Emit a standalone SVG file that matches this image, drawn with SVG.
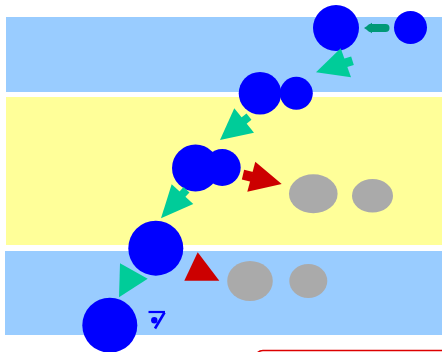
<svg xmlns="http://www.w3.org/2000/svg" width="442" height="352" viewBox="0 0 442 352">
  <style>
    .lane-blue { fill: #99CCFF; }
    .lane-yellow { fill: #FFFF99; }
    .node { fill: #0000FF; }
    .ghost { fill: #AAAAAA; }
    .teal { fill: #00CC99; }
    .teal-stem { stroke: #00CC99; fill: none; }
    .red { fill: #CC0000; }
    .red-stem { stroke: #CC0000; fill: none; }
    .dark { fill: #009977; }
    .dark-stem { stroke: #009977; fill: none; stroke-linecap: round; }
  </style>
  <rect width="442" height="352" fill="#FFFFFF"/>

  <!-- swimlanes -->
  <g id="lanes">
    <rect class="lane-blue" x="6" y="17" width="436" height="75"/>
    <rect class="lane-yellow" x="6" y="97" width="436" height="148"/>
    <rect class="lane-blue" x="5" y="251" width="437" height="84"/>
  </g>

  <!-- nodes -->
  <g id="n-top-small"><circle class="node" cx="410.5" cy="27.5" r="16.5"/></g>
  <g id="n-top-big"><circle class="node" cx="336" cy="28" r="23"/></g>
  <g id="n-mid-big"><circle class="node" cx="260" cy="93.3" r="21.3"/></g>
  <g id="n-mid-small"><circle class="node" cx="296.3" cy="93.3" r="16.5"/></g>
  <g id="n-center-big"><circle class="node" cx="195.5" cy="168" r="23.5"/></g>
  <g id="n-center-small"><circle class="node" cx="222.2" cy="167.5" r="18.5"/></g>
  <g id="n-ghost-1"><ellipse class="ghost" cx="313.3" cy="193.8" rx="24.3" ry="19.5"/></g>
  <g id="n-ghost-2"><ellipse class="ghost" cx="372.5" cy="195.8" rx="20.5" ry="16.8"/></g>
  <g id="n-low-big"><circle class="node" cx="155.8" cy="248.2" r="27.5"/></g>
  <g id="n-ghost-3"><ellipse class="ghost" cx="250" cy="281" rx="22.8" ry="20"/></g>
  <g id="n-ghost-4"><ellipse class="ghost" cx="308.3" cy="281" rx="19" ry="17"/></g>
  <g id="n-bottom"><circle class="node" cx="109.8" cy="325.2" r="27.5"/></g>

  <!-- small mark beside the bottom node -->
  <g id="mark" fill="#0000FF" stroke="#0000FF">
    <line x1="148.5" y1="312" x2="165" y2="312" stroke-width="2.2"/>
    <line x1="164.5" y1="312.5" x2="155" y2="328.5" stroke-width="2.6"/>
    <circle cx="154.3" cy="320.3" r="3.2" stroke="none"/>
  </g>

  <!-- connectors -->
  <g id="connectors">
    <!-- top: small node to big node -->
    <line class="dark-stem" x1="371" y1="28" x2="385.5" y2="28" stroke-width="8"/>
    <polygon class="dark" points="364,28 372,22.8 372,33.2"/>

    <!-- top big node down to middle row -->
    <line class="teal-stem" x1="352.5" y1="60.7" x2="345" y2="63" stroke-width="9"/>
    <polygon class="teal" points="316,72.3 340.7,48.3 351,77.3"/>

    <!-- middle row down to center row -->
    <line class="teal-stem" x1="249" y1="116.7" x2="243.5" y2="121" stroke-width="8"/>
    <polygon class="teal" points="220,140 234.3,108.3 254,132.7"/>

    <!-- center row to first ghost -->
    <line class="red-stem" x1="243" y1="174.7" x2="252" y2="176.8" stroke-width="10"/>
    <polygon class="red" points="281.7,184 255.3,161.7 247.3,191.7"/>

    <!-- center row down to lower big node -->
    <line class="teal-stem" x1="186.5" y1="189.7" x2="182" y2="194.6" stroke-width="8"/>
    <polygon class="teal" points="161,218.3 171.7,184.3 193.3,204"/>

    <!-- lower lane -->
    <polygon class="red" points="197.7,252.3 184.3,280.7 219.3,280.7"/>
    <polygon class="teal" points="120,263.3 147.7,278.7 119,297.3"/>

    <!-- edge of the frame below -->
    <rect x="255" y="350.5" width="200" height="30" rx="8" fill="none" stroke="#DD0000" stroke-width="1.6"/>
  </g>
</svg>
